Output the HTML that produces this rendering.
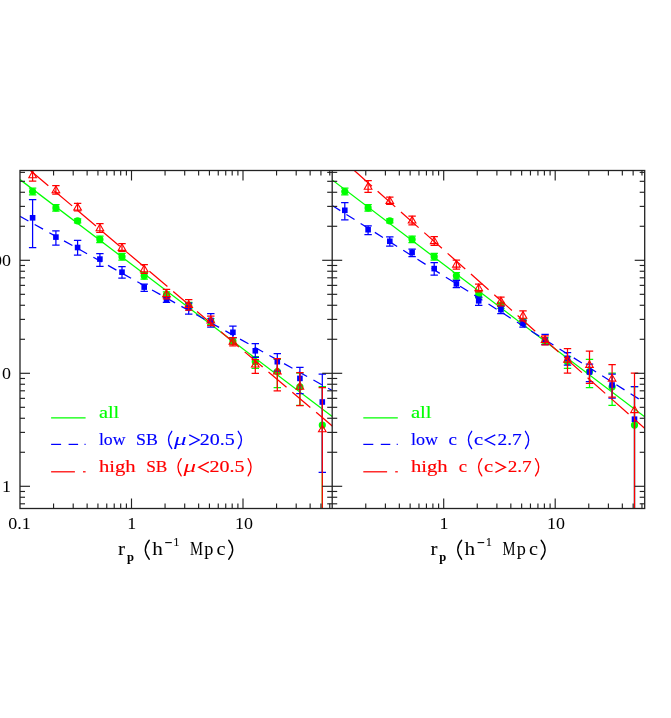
<!DOCTYPE html><html><head><meta charset="utf-8"><style>
html,body{margin:0;padding:0;background:#fff;}
body{width:671px;height:718px;overflow:hidden;position:relative;font-family:"Liberation Sans",sans-serif;}
svg{position:absolute;left:0;top:0;}
.t{font-family:"Liberation Serif",serif;font-size:17px;fill:#000;}
.s{font-family:"Liberation Serif",serif;font-size:17px;}
.d{font-family:"Liberation Serif",serif;font-size:17px;}
</style></head><body>
<svg width="671" height="718" viewBox="0 0 671 718" style="will-change:transform">
<rect x="0" y="0" width="671" height="718" fill="#fff"/>
<defs><clipPath id="cl"><rect x="20.0" y="170.5" width="312.2" height="338.0"/></clipPath>
<clipPath id="cr"><rect x="332.2" y="170.5" width="312.50000000000006" height="338.0"/></clipPath></defs>
<g clip-path="url(#cl)">
<line x1="20.00" y1="179.60" x2="332.20" y2="416.60" stroke="#00ff00" stroke-width="1.25" />
<line x1="32.60" y1="188.20" x2="32.60" y2="194.80" stroke="#00ff00" stroke-width="1.25" />
<line x1="28.90" y1="188.20" x2="36.30" y2="188.20" stroke="#00ff00" stroke-width="1.25" />
<line x1="28.90" y1="194.80" x2="36.30" y2="194.80" stroke="#00ff00" stroke-width="1.25" />
<circle cx="32.60" cy="191.50" r="3.6" fill="#00ff00"/>
<line x1="55.90" y1="204.60" x2="55.90" y2="211.20" stroke="#00ff00" stroke-width="1.25" />
<line x1="52.20" y1="204.60" x2="59.60" y2="204.60" stroke="#00ff00" stroke-width="1.25" />
<line x1="52.20" y1="211.20" x2="59.60" y2="211.20" stroke="#00ff00" stroke-width="1.25" />
<circle cx="55.90" cy="207.90" r="3.6" fill="#00ff00"/>
<line x1="77.60" y1="218.80" x2="77.60" y2="222.80" stroke="#00ff00" stroke-width="1.25" />
<line x1="73.90" y1="218.80" x2="81.30" y2="218.80" stroke="#00ff00" stroke-width="1.25" />
<line x1="73.90" y1="222.80" x2="81.30" y2="222.80" stroke="#00ff00" stroke-width="1.25" />
<circle cx="77.60" cy="220.80" r="3.6" fill="#00ff00"/>
<line x1="99.90" y1="236.10" x2="99.90" y2="242.70" stroke="#00ff00" stroke-width="1.25" />
<line x1="96.20" y1="236.10" x2="103.60" y2="236.10" stroke="#00ff00" stroke-width="1.25" />
<line x1="96.20" y1="242.70" x2="103.60" y2="242.70" stroke="#00ff00" stroke-width="1.25" />
<circle cx="99.90" cy="239.40" r="3.6" fill="#00ff00"/>
<line x1="122.00" y1="253.30" x2="122.00" y2="260.10" stroke="#00ff00" stroke-width="1.25" />
<line x1="118.30" y1="253.30" x2="125.70" y2="253.30" stroke="#00ff00" stroke-width="1.25" />
<line x1="118.30" y1="260.10" x2="125.70" y2="260.10" stroke="#00ff00" stroke-width="1.25" />
<circle cx="122.00" cy="256.70" r="3.6" fill="#00ff00"/>
<line x1="144.20" y1="272.60" x2="144.20" y2="279.20" stroke="#00ff00" stroke-width="1.25" />
<line x1="140.50" y1="272.60" x2="147.90" y2="272.60" stroke="#00ff00" stroke-width="1.25" />
<line x1="140.50" y1="279.20" x2="147.90" y2="279.20" stroke="#00ff00" stroke-width="1.25" />
<circle cx="144.20" cy="275.80" r="3.6" fill="#00ff00"/>
<line x1="166.50" y1="291.80" x2="166.50" y2="297.80" stroke="#00ff00" stroke-width="1.25" />
<line x1="162.80" y1="291.80" x2="170.20" y2="291.80" stroke="#00ff00" stroke-width="1.25" />
<line x1="162.80" y1="297.80" x2="170.20" y2="297.80" stroke="#00ff00" stroke-width="1.25" />
<circle cx="166.50" cy="294.80" r="3.6" fill="#00ff00"/>
<line x1="188.70" y1="302.30" x2="188.70" y2="308.30" stroke="#00ff00" stroke-width="1.25" />
<line x1="185.00" y1="302.30" x2="192.40" y2="302.30" stroke="#00ff00" stroke-width="1.25" />
<line x1="185.00" y1="308.30" x2="192.40" y2="308.30" stroke="#00ff00" stroke-width="1.25" />
<circle cx="188.70" cy="305.30" r="3.6" fill="#00ff00"/>
<line x1="210.80" y1="318.60" x2="210.80" y2="324.60" stroke="#00ff00" stroke-width="1.25" />
<line x1="207.10" y1="318.60" x2="214.50" y2="318.60" stroke="#00ff00" stroke-width="1.25" />
<line x1="207.10" y1="324.60" x2="214.50" y2="324.60" stroke="#00ff00" stroke-width="1.25" />
<circle cx="210.80" cy="321.60" r="3.6" fill="#00ff00"/>
<line x1="232.90" y1="337.80" x2="232.90" y2="344.20" stroke="#00ff00" stroke-width="1.25" />
<line x1="229.20" y1="337.80" x2="236.60" y2="337.80" stroke="#00ff00" stroke-width="1.25" />
<line x1="229.20" y1="344.20" x2="236.60" y2="344.20" stroke="#00ff00" stroke-width="1.25" />
<circle cx="232.90" cy="341.00" r="3.6" fill="#00ff00"/>
<line x1="255.30" y1="356.70" x2="255.30" y2="368.30" stroke="#00ff00" stroke-width="1.25" />
<line x1="251.60" y1="356.70" x2="259.00" y2="356.70" stroke="#00ff00" stroke-width="1.25" />
<line x1="251.60" y1="368.30" x2="259.00" y2="368.30" stroke="#00ff00" stroke-width="1.25" />
<circle cx="255.30" cy="361.80" r="3.6" fill="#00ff00"/>
<line x1="277.30" y1="359.40" x2="277.30" y2="387.50" stroke="#00ff00" stroke-width="1.25" />
<line x1="273.60" y1="359.40" x2="281.00" y2="359.40" stroke="#00ff00" stroke-width="1.25" />
<line x1="273.60" y1="387.50" x2="281.00" y2="387.50" stroke="#00ff00" stroke-width="1.25" />
<circle cx="277.30" cy="371.50" r="3.6" fill="#00ff00"/>
<line x1="299.90" y1="373.20" x2="299.90" y2="405.30" stroke="#00ff00" stroke-width="1.25" />
<line x1="296.20" y1="373.20" x2="303.60" y2="373.20" stroke="#00ff00" stroke-width="1.25" />
<line x1="296.20" y1="405.30" x2="303.60" y2="405.30" stroke="#00ff00" stroke-width="1.25" />
<circle cx="299.90" cy="386.80" r="3.6" fill="#00ff00"/>
<line x1="322.30" y1="386.70" x2="322.30" y2="1424.10" stroke="#00ff00" stroke-width="1.25" />
<line x1="318.60" y1="386.70" x2="326.00" y2="386.70" stroke="#00ff00" stroke-width="1.25" />
<line x1="318.60" y1="1424.10" x2="326.00" y2="1424.10" stroke="#00ff00" stroke-width="1.25" />
<circle cx="322.30" cy="425.10" r="3.6" fill="#00ff00"/>
<line x1="20.00" y1="216.30" x2="332.20" y2="390.50" stroke="#0000ff" stroke-width="1.25" stroke-dasharray="9.6 7.2" stroke-dashoffset="0"/>
<line x1="32.60" y1="199.60" x2="32.60" y2="247.60" stroke="#0000ff" stroke-width="1.25" />
<line x1="28.90" y1="199.60" x2="36.30" y2="199.60" stroke="#0000ff" stroke-width="1.25" />
<line x1="28.90" y1="247.60" x2="36.30" y2="247.60" stroke="#0000ff" stroke-width="1.25" />
<rect x="29.80" y="215.00" width="5.6" height="5.6" fill="#0000ff"/>
<line x1="55.90" y1="230.90" x2="55.90" y2="245.00" stroke="#0000ff" stroke-width="1.25" />
<line x1="52.20" y1="230.90" x2="59.60" y2="230.90" stroke="#0000ff" stroke-width="1.25" />
<line x1="52.20" y1="245.00" x2="59.60" y2="245.00" stroke="#0000ff" stroke-width="1.25" />
<rect x="53.10" y="234.30" width="5.6" height="5.6" fill="#0000ff"/>
<line x1="77.60" y1="240.30" x2="77.60" y2="255.10" stroke="#0000ff" stroke-width="1.25" />
<line x1="73.90" y1="240.30" x2="81.30" y2="240.30" stroke="#0000ff" stroke-width="1.25" />
<line x1="73.90" y1="255.10" x2="81.30" y2="255.10" stroke="#0000ff" stroke-width="1.25" />
<rect x="74.80" y="244.70" width="5.6" height="5.6" fill="#0000ff"/>
<line x1="99.90" y1="253.70" x2="99.90" y2="266.30" stroke="#0000ff" stroke-width="1.25" />
<line x1="96.20" y1="253.70" x2="103.60" y2="253.70" stroke="#0000ff" stroke-width="1.25" />
<line x1="96.20" y1="266.30" x2="103.60" y2="266.30" stroke="#0000ff" stroke-width="1.25" />
<rect x="97.10" y="256.30" width="5.6" height="5.6" fill="#0000ff"/>
<line x1="122.00" y1="266.50" x2="122.00" y2="278.20" stroke="#0000ff" stroke-width="1.25" />
<line x1="118.30" y1="266.50" x2="125.70" y2="266.50" stroke="#0000ff" stroke-width="1.25" />
<line x1="118.30" y1="278.20" x2="125.70" y2="278.20" stroke="#0000ff" stroke-width="1.25" />
<rect x="119.20" y="269.40" width="5.6" height="5.6" fill="#0000ff"/>
<line x1="144.20" y1="284.10" x2="144.20" y2="291.30" stroke="#0000ff" stroke-width="1.25" />
<line x1="140.50" y1="284.10" x2="147.90" y2="284.10" stroke="#0000ff" stroke-width="1.25" />
<line x1="140.50" y1="291.30" x2="147.90" y2="291.30" stroke="#0000ff" stroke-width="1.25" />
<rect x="141.40" y="284.30" width="5.6" height="5.6" fill="#0000ff"/>
<line x1="166.50" y1="297.00" x2="166.50" y2="302.30" stroke="#0000ff" stroke-width="1.25" />
<line x1="162.80" y1="297.00" x2="170.20" y2="297.00" stroke="#0000ff" stroke-width="1.25" />
<line x1="162.80" y1="302.30" x2="170.20" y2="302.30" stroke="#0000ff" stroke-width="1.25" />
<rect x="163.70" y="296.80" width="5.6" height="5.6" fill="#0000ff"/>
<line x1="188.70" y1="303.00" x2="188.70" y2="314.20" stroke="#0000ff" stroke-width="1.25" />
<line x1="185.00" y1="303.00" x2="192.40" y2="303.00" stroke="#0000ff" stroke-width="1.25" />
<line x1="185.00" y1="314.20" x2="192.40" y2="314.20" stroke="#0000ff" stroke-width="1.25" />
<rect x="185.90" y="305.10" width="5.6" height="5.6" fill="#0000ff"/>
<line x1="210.80" y1="313.60" x2="210.80" y2="327.00" stroke="#0000ff" stroke-width="1.25" />
<line x1="207.10" y1="313.60" x2="214.50" y2="313.60" stroke="#0000ff" stroke-width="1.25" />
<line x1="207.10" y1="327.00" x2="214.50" y2="327.00" stroke="#0000ff" stroke-width="1.25" />
<rect x="208.00" y="317.60" width="5.6" height="5.6" fill="#0000ff"/>
<line x1="232.90" y1="326.10" x2="232.90" y2="337.50" stroke="#0000ff" stroke-width="1.25" />
<line x1="229.20" y1="326.10" x2="236.60" y2="326.10" stroke="#0000ff" stroke-width="1.25" />
<line x1="229.20" y1="337.50" x2="236.60" y2="337.50" stroke="#0000ff" stroke-width="1.25" />
<rect x="230.10" y="329.50" width="5.6" height="5.6" fill="#0000ff"/>
<line x1="255.30" y1="343.60" x2="255.30" y2="357.30" stroke="#0000ff" stroke-width="1.25" />
<line x1="251.60" y1="343.60" x2="259.00" y2="343.60" stroke="#0000ff" stroke-width="1.25" />
<line x1="251.60" y1="357.30" x2="259.00" y2="357.30" stroke="#0000ff" stroke-width="1.25" />
<rect x="252.50" y="348.00" width="5.6" height="5.6" fill="#0000ff"/>
<line x1="277.30" y1="353.60" x2="277.30" y2="371.00" stroke="#0000ff" stroke-width="1.25" />
<line x1="273.60" y1="353.60" x2="281.00" y2="353.60" stroke="#0000ff" stroke-width="1.25" />
<line x1="273.60" y1="371.00" x2="281.00" y2="371.00" stroke="#0000ff" stroke-width="1.25" />
<rect x="274.50" y="358.90" width="5.6" height="5.6" fill="#0000ff"/>
<line x1="299.90" y1="367.30" x2="299.90" y2="393.60" stroke="#0000ff" stroke-width="1.25" />
<line x1="296.20" y1="367.30" x2="303.60" y2="367.30" stroke="#0000ff" stroke-width="1.25" />
<line x1="296.20" y1="393.60" x2="303.60" y2="393.60" stroke="#0000ff" stroke-width="1.25" />
<rect x="297.10" y="375.60" width="5.6" height="5.6" fill="#0000ff"/>
<line x1="322.30" y1="374.00" x2="322.30" y2="472.40" stroke="#0000ff" stroke-width="1.25" />
<line x1="318.60" y1="374.00" x2="326.00" y2="374.00" stroke="#0000ff" stroke-width="1.25" />
<line x1="318.60" y1="472.40" x2="326.00" y2="472.40" stroke="#0000ff" stroke-width="1.25" />
<rect x="319.50" y="399.20" width="5.6" height="5.6" fill="#0000ff"/>
<line x1="30.30" y1="170.50" x2="342.20" y2="434.36" stroke="#ff0000" stroke-width="1.25" stroke-dasharray="23.6 7.6" stroke-dashoffset="0"/>
<line x1="32.60" y1="169.00" x2="32.60" y2="181.10" stroke="#ff0000" stroke-width="1.25" />
<line x1="28.90" y1="169.00" x2="36.30" y2="169.00" stroke="#ff0000" stroke-width="1.25" />
<line x1="28.90" y1="181.10" x2="36.30" y2="181.10" stroke="#ff0000" stroke-width="1.25" />
<polygon points="32.60,171.10 28.79,177.70 36.41,177.70" fill="none" stroke="#ff0000" stroke-width="1.1"/>
<line x1="55.90" y1="185.50" x2="55.90" y2="194.00" stroke="#ff0000" stroke-width="1.25" />
<line x1="52.20" y1="185.50" x2="59.60" y2="185.50" stroke="#ff0000" stroke-width="1.25" />
<line x1="52.20" y1="194.00" x2="59.60" y2="194.00" stroke="#ff0000" stroke-width="1.25" />
<polygon points="55.90,186.10 52.09,192.70 59.71,192.70" fill="none" stroke="#ff0000" stroke-width="1.1"/>
<line x1="77.60" y1="203.40" x2="77.60" y2="210.90" stroke="#ff0000" stroke-width="1.25" />
<line x1="73.90" y1="203.40" x2="81.30" y2="203.40" stroke="#ff0000" stroke-width="1.25" />
<line x1="73.90" y1="210.90" x2="81.30" y2="210.90" stroke="#ff0000" stroke-width="1.25" />
<polygon points="77.60,203.40 73.79,210.00 81.41,210.00" fill="none" stroke="#ff0000" stroke-width="1.1"/>
<line x1="99.90" y1="223.60" x2="99.90" y2="232.30" stroke="#ff0000" stroke-width="1.25" />
<line x1="96.20" y1="223.60" x2="103.60" y2="223.60" stroke="#ff0000" stroke-width="1.25" />
<line x1="96.20" y1="232.30" x2="103.60" y2="232.30" stroke="#ff0000" stroke-width="1.25" />
<polygon points="99.90,224.10 96.09,230.70 103.71,230.70" fill="none" stroke="#ff0000" stroke-width="1.1"/>
<line x1="122.00" y1="243.60" x2="122.00" y2="251.40" stroke="#ff0000" stroke-width="1.25" />
<line x1="118.30" y1="243.60" x2="125.70" y2="243.60" stroke="#ff0000" stroke-width="1.25" />
<line x1="118.30" y1="251.40" x2="125.70" y2="251.40" stroke="#ff0000" stroke-width="1.25" />
<polygon points="122.00,243.80 118.19,250.40 125.81,250.40" fill="none" stroke="#ff0000" stroke-width="1.1"/>
<line x1="144.20" y1="264.50" x2="144.20" y2="273.40" stroke="#ff0000" stroke-width="1.25" />
<line x1="140.50" y1="264.50" x2="147.90" y2="264.50" stroke="#ff0000" stroke-width="1.25" />
<line x1="140.50" y1="273.40" x2="147.90" y2="273.40" stroke="#ff0000" stroke-width="1.25" />
<polygon points="144.20,265.20 140.39,271.80 148.01,271.80" fill="none" stroke="#ff0000" stroke-width="1.1"/>
<line x1="166.50" y1="289.40" x2="166.50" y2="298.80" stroke="#ff0000" stroke-width="1.25" />
<line x1="162.80" y1="289.40" x2="170.20" y2="289.40" stroke="#ff0000" stroke-width="1.25" />
<line x1="162.80" y1="298.80" x2="170.20" y2="298.80" stroke="#ff0000" stroke-width="1.25" />
<polygon points="166.50,290.00 162.69,296.60 170.31,296.60" fill="none" stroke="#ff0000" stroke-width="1.1"/>
<line x1="188.70" y1="299.60" x2="188.70" y2="310.00" stroke="#ff0000" stroke-width="1.25" />
<line x1="185.00" y1="299.60" x2="192.40" y2="299.60" stroke="#ff0000" stroke-width="1.25" />
<line x1="185.00" y1="310.00" x2="192.40" y2="310.00" stroke="#ff0000" stroke-width="1.25" />
<polygon points="188.70,300.80 184.89,307.40 192.51,307.40" fill="none" stroke="#ff0000" stroke-width="1.1"/>
<line x1="210.80" y1="316.00" x2="210.80" y2="325.50" stroke="#ff0000" stroke-width="1.25" />
<line x1="207.10" y1="316.00" x2="214.50" y2="316.00" stroke="#ff0000" stroke-width="1.25" />
<line x1="207.10" y1="325.50" x2="214.50" y2="325.50" stroke="#ff0000" stroke-width="1.25" />
<polygon points="210.80,316.40 206.99,323.00 214.61,323.00" fill="none" stroke="#ff0000" stroke-width="1.1"/>
<line x1="232.90" y1="337.60" x2="232.90" y2="345.80" stroke="#ff0000" stroke-width="1.25" />
<line x1="229.20" y1="337.60" x2="236.60" y2="337.60" stroke="#ff0000" stroke-width="1.25" />
<line x1="229.20" y1="345.80" x2="236.60" y2="345.80" stroke="#ff0000" stroke-width="1.25" />
<polygon points="232.90,337.60 229.09,344.20 236.71,344.20" fill="none" stroke="#ff0000" stroke-width="1.1"/>
<line x1="255.30" y1="359.70" x2="255.30" y2="373.40" stroke="#ff0000" stroke-width="1.25" />
<line x1="251.60" y1="359.70" x2="259.00" y2="359.70" stroke="#ff0000" stroke-width="1.25" />
<line x1="251.60" y1="373.40" x2="259.00" y2="373.40" stroke="#ff0000" stroke-width="1.25" />
<polygon points="255.30,360.40 251.49,367.00 259.11,367.00" fill="none" stroke="#ff0000" stroke-width="1.1"/>
<line x1="277.30" y1="358.70" x2="277.30" y2="390.90" stroke="#ff0000" stroke-width="1.25" />
<line x1="273.60" y1="358.70" x2="281.00" y2="358.70" stroke="#ff0000" stroke-width="1.25" />
<line x1="273.60" y1="390.90" x2="281.00" y2="390.90" stroke="#ff0000" stroke-width="1.25" />
<polygon points="277.30,367.40 273.49,374.00 281.11,374.00" fill="none" stroke="#ff0000" stroke-width="1.1"/>
<line x1="299.90" y1="372.70" x2="299.90" y2="405.60" stroke="#ff0000" stroke-width="1.25" />
<line x1="296.20" y1="372.70" x2="303.60" y2="372.70" stroke="#ff0000" stroke-width="1.25" />
<line x1="296.20" y1="405.60" x2="303.60" y2="405.60" stroke="#ff0000" stroke-width="1.25" />
<polygon points="299.90,382.60 296.09,389.20 303.71,389.20" fill="none" stroke="#ff0000" stroke-width="1.1"/>
<line x1="322.30" y1="387.70" x2="322.30" y2="999.00" stroke="#ff0000" stroke-width="1.25" />
<line x1="318.60" y1="387.70" x2="326.00" y2="387.70" stroke="#ff0000" stroke-width="1.25" />
<line x1="318.60" y1="999.00" x2="326.00" y2="999.00" stroke="#ff0000" stroke-width="1.25" />
<polygon points="322.30,425.20 318.49,431.80 326.11,431.80" fill="none" stroke="#ff0000" stroke-width="1.1"/>
</g>
<g clip-path="url(#cr)">
<line x1="332.20" y1="179.90" x2="644.70" y2="416.80" stroke="#00ff00" stroke-width="1.25" />
<line x1="344.80" y1="188.20" x2="344.80" y2="194.80" stroke="#00ff00" stroke-width="1.25" />
<line x1="341.10" y1="188.20" x2="348.50" y2="188.20" stroke="#00ff00" stroke-width="1.25" />
<line x1="341.10" y1="194.80" x2="348.50" y2="194.80" stroke="#00ff00" stroke-width="1.25" />
<circle cx="344.80" cy="191.50" r="3.6" fill="#00ff00"/>
<line x1="368.10" y1="204.60" x2="368.10" y2="211.20" stroke="#00ff00" stroke-width="1.25" />
<line x1="364.40" y1="204.60" x2="371.80" y2="204.60" stroke="#00ff00" stroke-width="1.25" />
<line x1="364.40" y1="211.20" x2="371.80" y2="211.20" stroke="#00ff00" stroke-width="1.25" />
<circle cx="368.10" cy="207.90" r="3.6" fill="#00ff00"/>
<line x1="389.80" y1="218.80" x2="389.80" y2="222.80" stroke="#00ff00" stroke-width="1.25" />
<line x1="386.10" y1="218.80" x2="393.50" y2="218.80" stroke="#00ff00" stroke-width="1.25" />
<line x1="386.10" y1="222.80" x2="393.50" y2="222.80" stroke="#00ff00" stroke-width="1.25" />
<circle cx="389.80" cy="220.80" r="3.6" fill="#00ff00"/>
<line x1="412.10" y1="236.10" x2="412.10" y2="242.70" stroke="#00ff00" stroke-width="1.25" />
<line x1="408.40" y1="236.10" x2="415.80" y2="236.10" stroke="#00ff00" stroke-width="1.25" />
<line x1="408.40" y1="242.70" x2="415.80" y2="242.70" stroke="#00ff00" stroke-width="1.25" />
<circle cx="412.10" cy="239.40" r="3.6" fill="#00ff00"/>
<line x1="434.20" y1="253.30" x2="434.20" y2="260.10" stroke="#00ff00" stroke-width="1.25" />
<line x1="430.50" y1="253.30" x2="437.90" y2="253.30" stroke="#00ff00" stroke-width="1.25" />
<line x1="430.50" y1="260.10" x2="437.90" y2="260.10" stroke="#00ff00" stroke-width="1.25" />
<circle cx="434.20" cy="256.70" r="3.6" fill="#00ff00"/>
<line x1="456.40" y1="272.60" x2="456.40" y2="279.20" stroke="#00ff00" stroke-width="1.25" />
<line x1="452.70" y1="272.60" x2="460.10" y2="272.60" stroke="#00ff00" stroke-width="1.25" />
<line x1="452.70" y1="279.20" x2="460.10" y2="279.20" stroke="#00ff00" stroke-width="1.25" />
<circle cx="456.40" cy="275.80" r="3.6" fill="#00ff00"/>
<line x1="478.70" y1="291.80" x2="478.70" y2="297.80" stroke="#00ff00" stroke-width="1.25" />
<line x1="475.00" y1="291.80" x2="482.40" y2="291.80" stroke="#00ff00" stroke-width="1.25" />
<line x1="475.00" y1="297.80" x2="482.40" y2="297.80" stroke="#00ff00" stroke-width="1.25" />
<circle cx="478.70" cy="294.80" r="3.6" fill="#00ff00"/>
<line x1="500.90" y1="302.30" x2="500.90" y2="308.30" stroke="#00ff00" stroke-width="1.25" />
<line x1="497.20" y1="302.30" x2="504.60" y2="302.30" stroke="#00ff00" stroke-width="1.25" />
<line x1="497.20" y1="308.30" x2="504.60" y2="308.30" stroke="#00ff00" stroke-width="1.25" />
<circle cx="500.90" cy="305.30" r="3.6" fill="#00ff00"/>
<line x1="523.00" y1="318.60" x2="523.00" y2="324.60" stroke="#00ff00" stroke-width="1.25" />
<line x1="519.30" y1="318.60" x2="526.70" y2="318.60" stroke="#00ff00" stroke-width="1.25" />
<line x1="519.30" y1="324.60" x2="526.70" y2="324.60" stroke="#00ff00" stroke-width="1.25" />
<circle cx="523.00" cy="321.60" r="3.6" fill="#00ff00"/>
<line x1="545.10" y1="337.80" x2="545.10" y2="344.20" stroke="#00ff00" stroke-width="1.25" />
<line x1="541.40" y1="337.80" x2="548.80" y2="337.80" stroke="#00ff00" stroke-width="1.25" />
<line x1="541.40" y1="344.20" x2="548.80" y2="344.20" stroke="#00ff00" stroke-width="1.25" />
<circle cx="545.10" cy="341.00" r="3.6" fill="#00ff00"/>
<line x1="567.50" y1="356.70" x2="567.50" y2="368.30" stroke="#00ff00" stroke-width="1.25" />
<line x1="563.80" y1="356.70" x2="571.20" y2="356.70" stroke="#00ff00" stroke-width="1.25" />
<line x1="563.80" y1="368.30" x2="571.20" y2="368.30" stroke="#00ff00" stroke-width="1.25" />
<circle cx="567.50" cy="361.80" r="3.6" fill="#00ff00"/>
<line x1="589.50" y1="359.40" x2="589.50" y2="387.50" stroke="#00ff00" stroke-width="1.25" />
<line x1="585.80" y1="359.40" x2="593.20" y2="359.40" stroke="#00ff00" stroke-width="1.25" />
<line x1="585.80" y1="387.50" x2="593.20" y2="387.50" stroke="#00ff00" stroke-width="1.25" />
<circle cx="589.50" cy="371.50" r="3.6" fill="#00ff00"/>
<line x1="612.10" y1="373.20" x2="612.10" y2="405.30" stroke="#00ff00" stroke-width="1.25" />
<line x1="608.40" y1="373.20" x2="615.80" y2="373.20" stroke="#00ff00" stroke-width="1.25" />
<line x1="608.40" y1="405.30" x2="615.80" y2="405.30" stroke="#00ff00" stroke-width="1.25" />
<circle cx="612.10" cy="386.80" r="3.6" fill="#00ff00"/>
<line x1="634.50" y1="386.70" x2="634.50" y2="1424.10" stroke="#00ff00" stroke-width="1.25" />
<line x1="630.80" y1="386.70" x2="638.20" y2="386.70" stroke="#00ff00" stroke-width="1.25" />
<line x1="630.80" y1="1424.10" x2="638.20" y2="1424.10" stroke="#00ff00" stroke-width="1.25" />
<circle cx="634.50" cy="425.10" r="3.6" fill="#00ff00"/>
<line x1="332.20" y1="205.50" x2="644.50" y2="402.50" stroke="#0000ff" stroke-width="1.25" stroke-dasharray="9.6 7.2" stroke-dashoffset="0"/>
<line x1="344.80" y1="202.50" x2="344.80" y2="219.80" stroke="#0000ff" stroke-width="1.25" />
<line x1="341.10" y1="202.50" x2="348.50" y2="202.50" stroke="#0000ff" stroke-width="1.25" />
<line x1="341.10" y1="219.80" x2="348.50" y2="219.80" stroke="#0000ff" stroke-width="1.25" />
<rect x="342.00" y="207.50" width="5.6" height="5.6" fill="#0000ff"/>
<line x1="368.10" y1="225.80" x2="368.10" y2="234.50" stroke="#0000ff" stroke-width="1.25" />
<line x1="364.40" y1="225.80" x2="371.80" y2="225.80" stroke="#0000ff" stroke-width="1.25" />
<line x1="364.40" y1="234.50" x2="371.80" y2="234.50" stroke="#0000ff" stroke-width="1.25" />
<rect x="365.30" y="226.90" width="5.6" height="5.6" fill="#0000ff"/>
<line x1="389.80" y1="236.90" x2="389.80" y2="246.00" stroke="#0000ff" stroke-width="1.25" />
<line x1="386.10" y1="236.90" x2="393.50" y2="236.90" stroke="#0000ff" stroke-width="1.25" />
<line x1="386.10" y1="246.00" x2="393.50" y2="246.00" stroke="#0000ff" stroke-width="1.25" />
<rect x="387.00" y="238.50" width="5.6" height="5.6" fill="#0000ff"/>
<line x1="412.10" y1="249.00" x2="412.10" y2="256.70" stroke="#0000ff" stroke-width="1.25" />
<line x1="408.40" y1="249.00" x2="415.80" y2="249.00" stroke="#0000ff" stroke-width="1.25" />
<line x1="408.40" y1="256.70" x2="415.80" y2="256.70" stroke="#0000ff" stroke-width="1.25" />
<rect x="409.30" y="249.70" width="5.6" height="5.6" fill="#0000ff"/>
<line x1="434.20" y1="262.70" x2="434.20" y2="275.20" stroke="#0000ff" stroke-width="1.25" />
<line x1="430.50" y1="262.70" x2="437.90" y2="262.70" stroke="#0000ff" stroke-width="1.25" />
<line x1="430.50" y1="275.20" x2="437.90" y2="275.20" stroke="#0000ff" stroke-width="1.25" />
<rect x="431.40" y="265.80" width="5.6" height="5.6" fill="#0000ff"/>
<line x1="456.40" y1="280.30" x2="456.40" y2="287.70" stroke="#0000ff" stroke-width="1.25" />
<line x1="452.70" y1="280.30" x2="460.10" y2="280.30" stroke="#0000ff" stroke-width="1.25" />
<line x1="452.70" y1="287.70" x2="460.10" y2="287.70" stroke="#0000ff" stroke-width="1.25" />
<rect x="453.60" y="281.10" width="5.6" height="5.6" fill="#0000ff"/>
<line x1="478.70" y1="297.00" x2="478.70" y2="305.30" stroke="#0000ff" stroke-width="1.25" />
<line x1="475.00" y1="297.00" x2="482.40" y2="297.00" stroke="#0000ff" stroke-width="1.25" />
<line x1="475.00" y1="305.30" x2="482.40" y2="305.30" stroke="#0000ff" stroke-width="1.25" />
<rect x="475.90" y="298.00" width="5.6" height="5.6" fill="#0000ff"/>
<line x1="500.90" y1="306.00" x2="500.90" y2="313.60" stroke="#0000ff" stroke-width="1.25" />
<line x1="497.20" y1="306.00" x2="504.60" y2="306.00" stroke="#0000ff" stroke-width="1.25" />
<line x1="497.20" y1="313.60" x2="504.60" y2="313.60" stroke="#0000ff" stroke-width="1.25" />
<rect x="498.10" y="306.90" width="5.6" height="5.6" fill="#0000ff"/>
<line x1="523.00" y1="320.00" x2="523.00" y2="327.00" stroke="#0000ff" stroke-width="1.25" />
<line x1="519.30" y1="320.00" x2="526.70" y2="320.00" stroke="#0000ff" stroke-width="1.25" />
<line x1="519.30" y1="327.00" x2="526.70" y2="327.00" stroke="#0000ff" stroke-width="1.25" />
<rect x="520.20" y="320.60" width="5.6" height="5.6" fill="#0000ff"/>
<line x1="545.10" y1="334.30" x2="545.10" y2="344.50" stroke="#0000ff" stroke-width="1.25" />
<line x1="541.40" y1="334.30" x2="548.80" y2="334.30" stroke="#0000ff" stroke-width="1.25" />
<line x1="541.40" y1="344.50" x2="548.80" y2="344.50" stroke="#0000ff" stroke-width="1.25" />
<rect x="542.30" y="337.20" width="5.6" height="5.6" fill="#0000ff"/>
<line x1="567.50" y1="352.50" x2="567.50" y2="365.00" stroke="#0000ff" stroke-width="1.25" />
<line x1="563.80" y1="352.50" x2="571.20" y2="352.50" stroke="#0000ff" stroke-width="1.25" />
<line x1="563.80" y1="365.00" x2="571.20" y2="365.00" stroke="#0000ff" stroke-width="1.25" />
<rect x="564.70" y="355.50" width="5.6" height="5.6" fill="#0000ff"/>
<line x1="589.50" y1="364.20" x2="589.50" y2="381.50" stroke="#0000ff" stroke-width="1.25" />
<line x1="585.80" y1="364.20" x2="593.20" y2="364.20" stroke="#0000ff" stroke-width="1.25" />
<line x1="585.80" y1="381.50" x2="593.20" y2="381.50" stroke="#0000ff" stroke-width="1.25" />
<rect x="586.70" y="369.20" width="5.6" height="5.6" fill="#0000ff"/>
<line x1="612.10" y1="374.10" x2="612.10" y2="398.20" stroke="#0000ff" stroke-width="1.25" />
<line x1="608.40" y1="374.10" x2="615.80" y2="374.10" stroke="#0000ff" stroke-width="1.25" />
<line x1="608.40" y1="398.20" x2="615.80" y2="398.20" stroke="#0000ff" stroke-width="1.25" />
<rect x="609.30" y="382.20" width="5.6" height="5.6" fill="#0000ff"/>
<line x1="634.50" y1="386.60" x2="634.50" y2="999.00" stroke="#0000ff" stroke-width="1.25" />
<line x1="630.80" y1="386.60" x2="638.20" y2="386.60" stroke="#0000ff" stroke-width="1.25" />
<line x1="630.80" y1="999.00" x2="638.20" y2="999.00" stroke="#0000ff" stroke-width="1.25" />
<rect x="631.70" y="416.40" width="5.6" height="5.6" fill="#0000ff"/>
<line x1="354.30" y1="170.50" x2="654.70" y2="437.28" stroke="#ff0000" stroke-width="1.25" stroke-dasharray="23.6 7.6" stroke-dashoffset="0"/>
<line x1="368.10" y1="180.50" x2="368.10" y2="192.40" stroke="#ff0000" stroke-width="1.25" />
<line x1="364.40" y1="180.50" x2="371.80" y2="180.50" stroke="#ff0000" stroke-width="1.25" />
<line x1="364.40" y1="192.40" x2="371.80" y2="192.40" stroke="#ff0000" stroke-width="1.25" />
<polygon points="368.10,182.60 364.29,189.20 371.91,189.20" fill="none" stroke="#ff0000" stroke-width="1.1"/>
<line x1="389.80" y1="197.20" x2="389.80" y2="204.30" stroke="#ff0000" stroke-width="1.25" />
<line x1="386.10" y1="197.20" x2="393.50" y2="197.20" stroke="#ff0000" stroke-width="1.25" />
<line x1="386.10" y1="204.30" x2="393.50" y2="204.30" stroke="#ff0000" stroke-width="1.25" />
<polygon points="389.80,196.80 385.99,203.40 393.61,203.40" fill="none" stroke="#ff0000" stroke-width="1.1"/>
<line x1="412.10" y1="216.20" x2="412.10" y2="224.90" stroke="#ff0000" stroke-width="1.25" />
<line x1="408.40" y1="216.20" x2="415.80" y2="216.20" stroke="#ff0000" stroke-width="1.25" />
<line x1="408.40" y1="224.90" x2="415.80" y2="224.90" stroke="#ff0000" stroke-width="1.25" />
<polygon points="412.10,216.40 408.29,223.00 415.91,223.00" fill="none" stroke="#ff0000" stroke-width="1.1"/>
<line x1="434.20" y1="236.50" x2="434.20" y2="245.40" stroke="#ff0000" stroke-width="1.25" />
<line x1="430.50" y1="236.50" x2="437.90" y2="236.50" stroke="#ff0000" stroke-width="1.25" />
<line x1="430.50" y1="245.40" x2="437.90" y2="245.40" stroke="#ff0000" stroke-width="1.25" />
<polygon points="434.20,237.00 430.39,243.60 438.01,243.60" fill="none" stroke="#ff0000" stroke-width="1.1"/>
<line x1="456.40" y1="260.00" x2="456.40" y2="269.20" stroke="#ff0000" stroke-width="1.25" />
<line x1="452.70" y1="260.00" x2="460.10" y2="260.00" stroke="#ff0000" stroke-width="1.25" />
<line x1="452.70" y1="269.20" x2="460.10" y2="269.20" stroke="#ff0000" stroke-width="1.25" />
<polygon points="456.40,260.50 452.59,267.10 460.21,267.10" fill="none" stroke="#ff0000" stroke-width="1.1"/>
<line x1="478.70" y1="284.10" x2="478.70" y2="291.80" stroke="#ff0000" stroke-width="1.25" />
<line x1="475.00" y1="284.10" x2="482.40" y2="284.10" stroke="#ff0000" stroke-width="1.25" />
<line x1="475.00" y1="291.80" x2="482.40" y2="291.80" stroke="#ff0000" stroke-width="1.25" />
<polygon points="478.70,284.00 474.89,290.60 482.51,290.60" fill="none" stroke="#ff0000" stroke-width="1.1"/>
<line x1="500.90" y1="297.20" x2="500.90" y2="305.80" stroke="#ff0000" stroke-width="1.25" />
<line x1="497.20" y1="297.20" x2="504.60" y2="297.20" stroke="#ff0000" stroke-width="1.25" />
<line x1="497.20" y1="305.80" x2="504.60" y2="305.80" stroke="#ff0000" stroke-width="1.25" />
<polygon points="500.90,297.20 497.09,303.80 504.71,303.80" fill="none" stroke="#ff0000" stroke-width="1.1"/>
<line x1="523.00" y1="310.90" x2="523.00" y2="320.80" stroke="#ff0000" stroke-width="1.25" />
<line x1="519.30" y1="310.90" x2="526.70" y2="310.90" stroke="#ff0000" stroke-width="1.25" />
<line x1="519.30" y1="320.80" x2="526.70" y2="320.80" stroke="#ff0000" stroke-width="1.25" />
<polygon points="523.00,311.60 519.19,318.20 526.81,318.20" fill="none" stroke="#ff0000" stroke-width="1.1"/>
<line x1="545.10" y1="335.90" x2="545.10" y2="344.80" stroke="#ff0000" stroke-width="1.25" />
<line x1="541.40" y1="335.90" x2="548.80" y2="335.90" stroke="#ff0000" stroke-width="1.25" />
<line x1="541.40" y1="344.80" x2="548.80" y2="344.80" stroke="#ff0000" stroke-width="1.25" />
<polygon points="545.10,335.90 541.29,342.50 548.91,342.50" fill="none" stroke="#ff0000" stroke-width="1.1"/>
<line x1="567.50" y1="348.70" x2="567.50" y2="373.00" stroke="#ff0000" stroke-width="1.25" />
<line x1="563.80" y1="348.70" x2="571.20" y2="348.70" stroke="#ff0000" stroke-width="1.25" />
<line x1="563.80" y1="373.00" x2="571.20" y2="373.00" stroke="#ff0000" stroke-width="1.25" />
<polygon points="567.50,355.60 563.69,362.20 571.31,362.20" fill="none" stroke="#ff0000" stroke-width="1.1"/>
<line x1="589.50" y1="351.10" x2="589.50" y2="383.30" stroke="#ff0000" stroke-width="1.25" />
<line x1="585.80" y1="351.10" x2="593.20" y2="351.10" stroke="#ff0000" stroke-width="1.25" />
<line x1="585.80" y1="383.30" x2="593.20" y2="383.30" stroke="#ff0000" stroke-width="1.25" />
<polygon points="589.50,360.80 585.69,367.40 593.31,367.40" fill="none" stroke="#ff0000" stroke-width="1.1"/>
<line x1="612.10" y1="364.60" x2="612.10" y2="397.00" stroke="#ff0000" stroke-width="1.25" />
<line x1="608.40" y1="364.60" x2="615.80" y2="364.60" stroke="#ff0000" stroke-width="1.25" />
<line x1="608.40" y1="397.00" x2="615.80" y2="397.00" stroke="#ff0000" stroke-width="1.25" />
<polygon points="612.10,374.50 608.29,381.10 615.91,381.10" fill="none" stroke="#ff0000" stroke-width="1.1"/>
<line x1="634.50" y1="373.10" x2="634.50" y2="999.00" stroke="#ff0000" stroke-width="1.25" />
<line x1="630.80" y1="373.10" x2="638.20" y2="373.10" stroke="#ff0000" stroke-width="1.25" />
<line x1="630.80" y1="999.00" x2="638.20" y2="999.00" stroke="#ff0000" stroke-width="1.25" />
<polygon points="634.50,406.00 630.69,412.60 638.31,412.60" fill="none" stroke="#ff0000" stroke-width="1.1"/>
</g>
<rect x="20.0" y="170.5" width="624.7" height="338.0" fill="none" stroke="#222" stroke-width="1.3"/>
<line x1="332.20" y1="170.50" x2="332.20" y2="508.50" stroke="#222" stroke-width="1.3" />
<line x1="53.56" y1="508.50" x2="53.56" y2="503.50" stroke="#222" stroke-width="1.15" />
<line x1="53.56" y1="170.50" x2="53.56" y2="175.50" stroke="#222" stroke-width="1.15" />
<line x1="73.20" y1="508.50" x2="73.20" y2="503.50" stroke="#222" stroke-width="1.15" />
<line x1="73.20" y1="170.50" x2="73.20" y2="175.50" stroke="#222" stroke-width="1.15" />
<line x1="87.13" y1="508.50" x2="87.13" y2="503.50" stroke="#222" stroke-width="1.15" />
<line x1="87.13" y1="170.50" x2="87.13" y2="175.50" stroke="#222" stroke-width="1.15" />
<line x1="97.94" y1="508.50" x2="97.94" y2="503.50" stroke="#222" stroke-width="1.15" />
<line x1="97.94" y1="170.50" x2="97.94" y2="175.50" stroke="#222" stroke-width="1.15" />
<line x1="106.76" y1="508.50" x2="106.76" y2="503.50" stroke="#222" stroke-width="1.15" />
<line x1="106.76" y1="170.50" x2="106.76" y2="175.50" stroke="#222" stroke-width="1.15" />
<line x1="114.23" y1="508.50" x2="114.23" y2="503.50" stroke="#222" stroke-width="1.15" />
<line x1="114.23" y1="170.50" x2="114.23" y2="175.50" stroke="#222" stroke-width="1.15" />
<line x1="120.69" y1="508.50" x2="120.69" y2="503.50" stroke="#222" stroke-width="1.15" />
<line x1="120.69" y1="170.50" x2="120.69" y2="175.50" stroke="#222" stroke-width="1.15" />
<line x1="126.40" y1="508.50" x2="126.40" y2="503.50" stroke="#222" stroke-width="1.15" />
<line x1="126.40" y1="170.50" x2="126.40" y2="175.50" stroke="#222" stroke-width="1.15" />
<line x1="131.50" y1="508.50" x2="131.50" y2="498.50" stroke="#222" stroke-width="1.15" />
<line x1="131.50" y1="170.50" x2="131.50" y2="180.50" stroke="#222" stroke-width="1.15" />
<line x1="165.06" y1="508.50" x2="165.06" y2="503.50" stroke="#222" stroke-width="1.15" />
<line x1="165.06" y1="170.50" x2="165.06" y2="175.50" stroke="#222" stroke-width="1.15" />
<line x1="184.70" y1="508.50" x2="184.70" y2="503.50" stroke="#222" stroke-width="1.15" />
<line x1="184.70" y1="170.50" x2="184.70" y2="175.50" stroke="#222" stroke-width="1.15" />
<line x1="198.63" y1="508.50" x2="198.63" y2="503.50" stroke="#222" stroke-width="1.15" />
<line x1="198.63" y1="170.50" x2="198.63" y2="175.50" stroke="#222" stroke-width="1.15" />
<line x1="209.44" y1="508.50" x2="209.44" y2="503.50" stroke="#222" stroke-width="1.15" />
<line x1="209.44" y1="170.50" x2="209.44" y2="175.50" stroke="#222" stroke-width="1.15" />
<line x1="218.26" y1="508.50" x2="218.26" y2="503.50" stroke="#222" stroke-width="1.15" />
<line x1="218.26" y1="170.50" x2="218.26" y2="175.50" stroke="#222" stroke-width="1.15" />
<line x1="225.73" y1="508.50" x2="225.73" y2="503.50" stroke="#222" stroke-width="1.15" />
<line x1="225.73" y1="170.50" x2="225.73" y2="175.50" stroke="#222" stroke-width="1.15" />
<line x1="232.19" y1="508.50" x2="232.19" y2="503.50" stroke="#222" stroke-width="1.15" />
<line x1="232.19" y1="170.50" x2="232.19" y2="175.50" stroke="#222" stroke-width="1.15" />
<line x1="237.90" y1="508.50" x2="237.90" y2="503.50" stroke="#222" stroke-width="1.15" />
<line x1="237.90" y1="170.50" x2="237.90" y2="175.50" stroke="#222" stroke-width="1.15" />
<line x1="243.00" y1="508.50" x2="243.00" y2="498.50" stroke="#222" stroke-width="1.15" />
<line x1="243.00" y1="170.50" x2="243.00" y2="180.50" stroke="#222" stroke-width="1.15" />
<line x1="276.56" y1="508.50" x2="276.56" y2="503.50" stroke="#222" stroke-width="1.15" />
<line x1="276.56" y1="170.50" x2="276.56" y2="175.50" stroke="#222" stroke-width="1.15" />
<line x1="296.20" y1="508.50" x2="296.20" y2="503.50" stroke="#222" stroke-width="1.15" />
<line x1="296.20" y1="170.50" x2="296.20" y2="175.50" stroke="#222" stroke-width="1.15" />
<line x1="310.13" y1="508.50" x2="310.13" y2="503.50" stroke="#222" stroke-width="1.15" />
<line x1="310.13" y1="170.50" x2="310.13" y2="175.50" stroke="#222" stroke-width="1.15" />
<line x1="320.94" y1="508.50" x2="320.94" y2="503.50" stroke="#222" stroke-width="1.15" />
<line x1="320.94" y1="170.50" x2="320.94" y2="175.50" stroke="#222" stroke-width="1.15" />
<line x1="329.76" y1="508.50" x2="329.76" y2="503.50" stroke="#222" stroke-width="1.15" />
<line x1="329.76" y1="170.50" x2="329.76" y2="175.50" stroke="#222" stroke-width="1.15" />
<line x1="365.76" y1="508.50" x2="365.76" y2="503.50" stroke="#222" stroke-width="1.15" />
<line x1="365.76" y1="170.50" x2="365.76" y2="175.50" stroke="#222" stroke-width="1.15" />
<line x1="385.40" y1="508.50" x2="385.40" y2="503.50" stroke="#222" stroke-width="1.15" />
<line x1="385.40" y1="170.50" x2="385.40" y2="175.50" stroke="#222" stroke-width="1.15" />
<line x1="399.33" y1="508.50" x2="399.33" y2="503.50" stroke="#222" stroke-width="1.15" />
<line x1="399.33" y1="170.50" x2="399.33" y2="175.50" stroke="#222" stroke-width="1.15" />
<line x1="410.14" y1="508.50" x2="410.14" y2="503.50" stroke="#222" stroke-width="1.15" />
<line x1="410.14" y1="170.50" x2="410.14" y2="175.50" stroke="#222" stroke-width="1.15" />
<line x1="418.96" y1="508.50" x2="418.96" y2="503.50" stroke="#222" stroke-width="1.15" />
<line x1="418.96" y1="170.50" x2="418.96" y2="175.50" stroke="#222" stroke-width="1.15" />
<line x1="426.43" y1="508.50" x2="426.43" y2="503.50" stroke="#222" stroke-width="1.15" />
<line x1="426.43" y1="170.50" x2="426.43" y2="175.50" stroke="#222" stroke-width="1.15" />
<line x1="432.89" y1="508.50" x2="432.89" y2="503.50" stroke="#222" stroke-width="1.15" />
<line x1="432.89" y1="170.50" x2="432.89" y2="175.50" stroke="#222" stroke-width="1.15" />
<line x1="438.60" y1="508.50" x2="438.60" y2="503.50" stroke="#222" stroke-width="1.15" />
<line x1="438.60" y1="170.50" x2="438.60" y2="175.50" stroke="#222" stroke-width="1.15" />
<line x1="443.70" y1="508.50" x2="443.70" y2="498.50" stroke="#222" stroke-width="1.15" />
<line x1="443.70" y1="170.50" x2="443.70" y2="180.50" stroke="#222" stroke-width="1.15" />
<line x1="477.26" y1="508.50" x2="477.26" y2="503.50" stroke="#222" stroke-width="1.15" />
<line x1="477.26" y1="170.50" x2="477.26" y2="175.50" stroke="#222" stroke-width="1.15" />
<line x1="496.90" y1="508.50" x2="496.90" y2="503.50" stroke="#222" stroke-width="1.15" />
<line x1="496.90" y1="170.50" x2="496.90" y2="175.50" stroke="#222" stroke-width="1.15" />
<line x1="510.83" y1="508.50" x2="510.83" y2="503.50" stroke="#222" stroke-width="1.15" />
<line x1="510.83" y1="170.50" x2="510.83" y2="175.50" stroke="#222" stroke-width="1.15" />
<line x1="521.64" y1="508.50" x2="521.64" y2="503.50" stroke="#222" stroke-width="1.15" />
<line x1="521.64" y1="170.50" x2="521.64" y2="175.50" stroke="#222" stroke-width="1.15" />
<line x1="530.46" y1="508.50" x2="530.46" y2="503.50" stroke="#222" stroke-width="1.15" />
<line x1="530.46" y1="170.50" x2="530.46" y2="175.50" stroke="#222" stroke-width="1.15" />
<line x1="537.93" y1="508.50" x2="537.93" y2="503.50" stroke="#222" stroke-width="1.15" />
<line x1="537.93" y1="170.50" x2="537.93" y2="175.50" stroke="#222" stroke-width="1.15" />
<line x1="544.39" y1="508.50" x2="544.39" y2="503.50" stroke="#222" stroke-width="1.15" />
<line x1="544.39" y1="170.50" x2="544.39" y2="175.50" stroke="#222" stroke-width="1.15" />
<line x1="550.10" y1="508.50" x2="550.10" y2="503.50" stroke="#222" stroke-width="1.15" />
<line x1="550.10" y1="170.50" x2="550.10" y2="175.50" stroke="#222" stroke-width="1.15" />
<line x1="555.20" y1="508.50" x2="555.20" y2="498.50" stroke="#222" stroke-width="1.15" />
<line x1="555.20" y1="170.50" x2="555.20" y2="180.50" stroke="#222" stroke-width="1.15" />
<line x1="588.76" y1="508.50" x2="588.76" y2="503.50" stroke="#222" stroke-width="1.15" />
<line x1="588.76" y1="170.50" x2="588.76" y2="175.50" stroke="#222" stroke-width="1.15" />
<line x1="608.40" y1="508.50" x2="608.40" y2="503.50" stroke="#222" stroke-width="1.15" />
<line x1="608.40" y1="170.50" x2="608.40" y2="175.50" stroke="#222" stroke-width="1.15" />
<line x1="622.33" y1="508.50" x2="622.33" y2="503.50" stroke="#222" stroke-width="1.15" />
<line x1="622.33" y1="170.50" x2="622.33" y2="175.50" stroke="#222" stroke-width="1.15" />
<line x1="633.14" y1="508.50" x2="633.14" y2="503.50" stroke="#222" stroke-width="1.15" />
<line x1="633.14" y1="170.50" x2="633.14" y2="175.50" stroke="#222" stroke-width="1.15" />
<line x1="641.96" y1="508.50" x2="641.96" y2="503.50" stroke="#222" stroke-width="1.15" />
<line x1="641.96" y1="170.50" x2="641.96" y2="175.50" stroke="#222" stroke-width="1.15" />
<line x1="20.00" y1="503.80" x2="25.00" y2="503.80" stroke="#222" stroke-width="1.15" />
<line x1="327.20" y1="503.80" x2="337.20" y2="503.80" stroke="#222" stroke-width="1.15" />
<line x1="639.70" y1="503.80" x2="644.70" y2="503.80" stroke="#222" stroke-width="1.15" />
<line x1="20.00" y1="497.25" x2="25.00" y2="497.25" stroke="#222" stroke-width="1.15" />
<line x1="327.20" y1="497.25" x2="337.20" y2="497.25" stroke="#222" stroke-width="1.15" />
<line x1="639.70" y1="497.25" x2="644.70" y2="497.25" stroke="#222" stroke-width="1.15" />
<line x1="20.00" y1="491.47" x2="25.00" y2="491.47" stroke="#222" stroke-width="1.15" />
<line x1="327.20" y1="491.47" x2="337.20" y2="491.47" stroke="#222" stroke-width="1.15" />
<line x1="639.70" y1="491.47" x2="644.70" y2="491.47" stroke="#222" stroke-width="1.15" />
<line x1="20.00" y1="486.30" x2="30.00" y2="486.30" stroke="#222" stroke-width="1.15" />
<line x1="322.20" y1="486.30" x2="342.20" y2="486.30" stroke="#222" stroke-width="1.15" />
<line x1="634.70" y1="486.30" x2="644.70" y2="486.30" stroke="#222" stroke-width="1.15" />
<line x1="20.00" y1="452.28" x2="25.00" y2="452.28" stroke="#222" stroke-width="1.15" />
<line x1="327.20" y1="452.28" x2="337.20" y2="452.28" stroke="#222" stroke-width="1.15" />
<line x1="639.70" y1="452.28" x2="644.70" y2="452.28" stroke="#222" stroke-width="1.15" />
<line x1="20.00" y1="432.39" x2="25.00" y2="432.39" stroke="#222" stroke-width="1.15" />
<line x1="327.20" y1="432.39" x2="337.20" y2="432.39" stroke="#222" stroke-width="1.15" />
<line x1="639.70" y1="432.39" x2="644.70" y2="432.39" stroke="#222" stroke-width="1.15" />
<line x1="20.00" y1="418.27" x2="25.00" y2="418.27" stroke="#222" stroke-width="1.15" />
<line x1="327.20" y1="418.27" x2="337.20" y2="418.27" stroke="#222" stroke-width="1.15" />
<line x1="639.70" y1="418.27" x2="644.70" y2="418.27" stroke="#222" stroke-width="1.15" />
<line x1="20.00" y1="407.32" x2="25.00" y2="407.32" stroke="#222" stroke-width="1.15" />
<line x1="327.20" y1="407.32" x2="337.20" y2="407.32" stroke="#222" stroke-width="1.15" />
<line x1="639.70" y1="407.32" x2="644.70" y2="407.32" stroke="#222" stroke-width="1.15" />
<line x1="20.00" y1="398.37" x2="25.00" y2="398.37" stroke="#222" stroke-width="1.15" />
<line x1="327.20" y1="398.37" x2="337.20" y2="398.37" stroke="#222" stroke-width="1.15" />
<line x1="639.70" y1="398.37" x2="644.70" y2="398.37" stroke="#222" stroke-width="1.15" />
<line x1="20.00" y1="390.80" x2="25.00" y2="390.80" stroke="#222" stroke-width="1.15" />
<line x1="327.20" y1="390.80" x2="337.20" y2="390.80" stroke="#222" stroke-width="1.15" />
<line x1="639.70" y1="390.80" x2="644.70" y2="390.80" stroke="#222" stroke-width="1.15" />
<line x1="20.00" y1="384.25" x2="25.00" y2="384.25" stroke="#222" stroke-width="1.15" />
<line x1="327.20" y1="384.25" x2="337.20" y2="384.25" stroke="#222" stroke-width="1.15" />
<line x1="639.70" y1="384.25" x2="644.70" y2="384.25" stroke="#222" stroke-width="1.15" />
<line x1="20.00" y1="378.47" x2="25.00" y2="378.47" stroke="#222" stroke-width="1.15" />
<line x1="327.20" y1="378.47" x2="337.20" y2="378.47" stroke="#222" stroke-width="1.15" />
<line x1="639.70" y1="378.47" x2="644.70" y2="378.47" stroke="#222" stroke-width="1.15" />
<line x1="20.00" y1="373.30" x2="30.00" y2="373.30" stroke="#222" stroke-width="1.15" />
<line x1="322.20" y1="373.30" x2="342.20" y2="373.30" stroke="#222" stroke-width="1.15" />
<line x1="634.70" y1="373.30" x2="644.70" y2="373.30" stroke="#222" stroke-width="1.15" />
<line x1="20.00" y1="339.28" x2="25.00" y2="339.28" stroke="#222" stroke-width="1.15" />
<line x1="327.20" y1="339.28" x2="337.20" y2="339.28" stroke="#222" stroke-width="1.15" />
<line x1="639.70" y1="339.28" x2="644.70" y2="339.28" stroke="#222" stroke-width="1.15" />
<line x1="20.00" y1="319.39" x2="25.00" y2="319.39" stroke="#222" stroke-width="1.15" />
<line x1="327.20" y1="319.39" x2="337.20" y2="319.39" stroke="#222" stroke-width="1.15" />
<line x1="639.70" y1="319.39" x2="644.70" y2="319.39" stroke="#222" stroke-width="1.15" />
<line x1="20.00" y1="305.27" x2="25.00" y2="305.27" stroke="#222" stroke-width="1.15" />
<line x1="327.20" y1="305.27" x2="337.20" y2="305.27" stroke="#222" stroke-width="1.15" />
<line x1="639.70" y1="305.27" x2="644.70" y2="305.27" stroke="#222" stroke-width="1.15" />
<line x1="20.00" y1="294.32" x2="25.00" y2="294.32" stroke="#222" stroke-width="1.15" />
<line x1="327.20" y1="294.32" x2="337.20" y2="294.32" stroke="#222" stroke-width="1.15" />
<line x1="639.70" y1="294.32" x2="644.70" y2="294.32" stroke="#222" stroke-width="1.15" />
<line x1="20.00" y1="285.37" x2="25.00" y2="285.37" stroke="#222" stroke-width="1.15" />
<line x1="327.20" y1="285.37" x2="337.20" y2="285.37" stroke="#222" stroke-width="1.15" />
<line x1="639.70" y1="285.37" x2="644.70" y2="285.37" stroke="#222" stroke-width="1.15" />
<line x1="20.00" y1="277.80" x2="25.00" y2="277.80" stroke="#222" stroke-width="1.15" />
<line x1="327.20" y1="277.80" x2="337.20" y2="277.80" stroke="#222" stroke-width="1.15" />
<line x1="639.70" y1="277.80" x2="644.70" y2="277.80" stroke="#222" stroke-width="1.15" />
<line x1="20.00" y1="271.25" x2="25.00" y2="271.25" stroke="#222" stroke-width="1.15" />
<line x1="327.20" y1="271.25" x2="337.20" y2="271.25" stroke="#222" stroke-width="1.15" />
<line x1="639.70" y1="271.25" x2="644.70" y2="271.25" stroke="#222" stroke-width="1.15" />
<line x1="20.00" y1="265.47" x2="25.00" y2="265.47" stroke="#222" stroke-width="1.15" />
<line x1="327.20" y1="265.47" x2="337.20" y2="265.47" stroke="#222" stroke-width="1.15" />
<line x1="639.70" y1="265.47" x2="644.70" y2="265.47" stroke="#222" stroke-width="1.15" />
<line x1="20.00" y1="260.30" x2="30.00" y2="260.30" stroke="#222" stroke-width="1.15" />
<line x1="322.20" y1="260.30" x2="342.20" y2="260.30" stroke="#222" stroke-width="1.15" />
<line x1="634.70" y1="260.30" x2="644.70" y2="260.30" stroke="#222" stroke-width="1.15" />
<line x1="20.00" y1="226.28" x2="25.00" y2="226.28" stroke="#222" stroke-width="1.15" />
<line x1="327.20" y1="226.28" x2="337.20" y2="226.28" stroke="#222" stroke-width="1.15" />
<line x1="639.70" y1="226.28" x2="644.70" y2="226.28" stroke="#222" stroke-width="1.15" />
<line x1="20.00" y1="206.39" x2="25.00" y2="206.39" stroke="#222" stroke-width="1.15" />
<line x1="327.20" y1="206.39" x2="337.20" y2="206.39" stroke="#222" stroke-width="1.15" />
<line x1="639.70" y1="206.39" x2="644.70" y2="206.39" stroke="#222" stroke-width="1.15" />
<line x1="20.00" y1="192.27" x2="25.00" y2="192.27" stroke="#222" stroke-width="1.15" />
<line x1="327.20" y1="192.27" x2="337.20" y2="192.27" stroke="#222" stroke-width="1.15" />
<line x1="639.70" y1="192.27" x2="644.70" y2="192.27" stroke="#222" stroke-width="1.15" />
<line x1="20.00" y1="181.32" x2="25.00" y2="181.32" stroke="#222" stroke-width="1.15" />
<line x1="327.20" y1="181.32" x2="337.20" y2="181.32" stroke="#222" stroke-width="1.15" />
<line x1="639.70" y1="181.32" x2="644.70" y2="181.32" stroke="#222" stroke-width="1.15" />
<line x1="20.00" y1="172.37" x2="25.00" y2="172.37" stroke="#222" stroke-width="1.15" />
<line x1="327.20" y1="172.37" x2="337.20" y2="172.37" stroke="#222" stroke-width="1.15" />
<line x1="639.70" y1="172.37" x2="644.70" y2="172.37" stroke="#222" stroke-width="1.15" />
<text transform="translate(19.60,528.90) scale(1.06,1)" text-anchor="middle" class="t" >0.1</text>
<text transform="translate(131.70,528.90) scale(1.06,1)" text-anchor="middle" class="t" >1</text>
<text transform="translate(243.90,528.90) scale(1.06,1)" text-anchor="middle" class="t" >10</text>
<text transform="translate(443.90,528.90) scale(1.06,1)" text-anchor="middle" class="t" >1</text>
<text transform="translate(556.10,528.90) scale(1.06,1)" text-anchor="middle" class="t" >10</text>
<text transform="translate(10.90,491.90) scale(1.06,1)" text-anchor="end" class="t" >1</text>
<text transform="translate(10.90,378.90) scale(1.06,1)" text-anchor="end" class="t" >0</text>
<text transform="translate(10.90,266.00) scale(1.06,1)" text-anchor="end" class="t" >00</text>
<line x1="51.10" y1="417.80" x2="85.60" y2="417.80" stroke="#00ff00" stroke-width="1.25" />
<line x1="51.10" y1="444.40" x2="61.10" y2="444.40" stroke="#0000ff" stroke-width="1.25" />
<line x1="68.60" y1="444.40" x2="78.10" y2="444.40" stroke="#0000ff" stroke-width="1.25" />
<line x1="84.50" y1="444.40" x2="85.60" y2="444.40" stroke="#0000ff" stroke-width="1.25" />
<line x1="51.10" y1="471.80" x2="74.90" y2="471.80" stroke="#ff0000" stroke-width="1.25" />
<line x1="83.00" y1="471.80" x2="85.60" y2="471.80" stroke="#ff0000" stroke-width="1.25" />
<line x1="363.30" y1="417.80" x2="397.80" y2="417.80" stroke="#00ff00" stroke-width="1.25" />
<line x1="363.30" y1="444.40" x2="373.30" y2="444.40" stroke="#0000ff" stroke-width="1.25" />
<line x1="380.80" y1="444.40" x2="390.30" y2="444.40" stroke="#0000ff" stroke-width="1.25" />
<line x1="396.70" y1="444.40" x2="397.80" y2="444.40" stroke="#0000ff" stroke-width="1.25" />
<line x1="363.30" y1="471.80" x2="387.10" y2="471.80" stroke="#ff0000" stroke-width="1.25" />
<line x1="395.20" y1="471.80" x2="397.80" y2="471.80" stroke="#ff0000" stroke-width="1.25" />
<text x="98.90" y="417.90" class="s" fill="#00ff00" stroke="#00ff00" stroke-width="0.15" textLength="20.30" lengthAdjust="spacingAndGlyphs" >all</text>
<text x="98.90" y="444.70" class="s" fill="#0000ff" stroke="#0000ff" stroke-width="0.15" textLength="26.60" lengthAdjust="spacingAndGlyphs" >low</text>
<text x="136.10" y="444.70" class="s" fill="#0000ff" stroke="#0000ff" stroke-width="0.15" textLength="21.80" lengthAdjust="spacingAndGlyphs" >SB</text>
<path d="M171.78,431.30 Q165.26,439.95 171.78,448.60" fill="none" stroke="#0000ff" stroke-width="1.3" stroke-linecap="round"/>
<text x="174.00" y="444.70" font-family="Liberation Serif" font-style="italic" font-size="17.5px" fill="#0000ff" textLength="12.60" lengthAdjust="spacingAndGlyphs">μ</text>
<polyline points="189.20,434.90 199.20,440.00 189.20,445.10" fill="none" stroke="#0000ff" stroke-width="1.35"/>
<text x="199.80" y="444.70" class="d" fill="#0000ff" stroke="#0000ff" stroke-width="0.15" textLength="35.00" lengthAdjust="spacingAndGlyphs" >20.5</text>
<path d="M238.22,431.30 Q244.74,439.95 238.22,448.60" fill="none" stroke="#0000ff" stroke-width="1.3" stroke-linecap="round"/>
<text x="98.90" y="472.00" class="s" fill="#ff0000" stroke="#ff0000" stroke-width="0.15" textLength="36.70" lengthAdjust="spacingAndGlyphs" >high</text>
<text x="146.20" y="472.00" class="s" fill="#ff0000" stroke="#ff0000" stroke-width="0.15" textLength="21.10" lengthAdjust="spacingAndGlyphs" >SB</text>
<path d="M181.18,458.60 Q174.66,467.25 181.18,475.90" fill="none" stroke="#ff0000" stroke-width="1.3" stroke-linecap="round"/>
<text x="183.60" y="472.00" font-family="Liberation Serif" font-style="italic" font-size="17.5px" fill="#ff0000" textLength="12.60" lengthAdjust="spacingAndGlyphs">μ</text>
<polyline points="208.80,462.20 198.80,467.30 208.80,472.40" fill="none" stroke="#ff0000" stroke-width="1.35"/>
<text x="209.60" y="472.00" class="d" fill="#ff0000" stroke="#ff0000" stroke-width="0.15" textLength="35.00" lengthAdjust="spacingAndGlyphs" >20.5</text>
<path d="M248.12,458.60 Q254.04,467.25 248.12,475.90" fill="none" stroke="#ff0000" stroke-width="1.3" stroke-linecap="round"/>
<text x="410.90" y="417.90" class="s" fill="#00ff00" stroke="#00ff00" stroke-width="0.15" textLength="20.70" lengthAdjust="spacingAndGlyphs" >all</text>
<text x="410.90" y="444.70" class="s" fill="#0000ff" stroke="#0000ff" stroke-width="0.15" textLength="27.10" lengthAdjust="spacingAndGlyphs" >low</text>
<text x="448.60" y="444.70" class="s" fill="#0000ff" stroke="#0000ff" stroke-width="0.15" textLength="8.40" lengthAdjust="spacingAndGlyphs" >c</text>
<path d="M471.68,431.30 Q465.16,439.95 471.68,448.60" fill="none" stroke="#0000ff" stroke-width="1.3" stroke-linecap="round"/>
<text x="474.00" y="444.70" class="s" fill="#0000ff" stroke="#0000ff" stroke-width="0.15" textLength="9.10" lengthAdjust="spacingAndGlyphs" >c</text>
<polyline points="495.30,434.90 485.30,440.00 495.30,445.10" fill="none" stroke="#0000ff" stroke-width="1.35"/>
<text x="497.50" y="444.70" class="d" fill="#0000ff" stroke="#0000ff" stroke-width="0.15" textLength="24.10" lengthAdjust="spacingAndGlyphs" >2.7</text>
<path d="M525.42,431.30 Q531.94,439.95 525.42,448.60" fill="none" stroke="#0000ff" stroke-width="1.3" stroke-linecap="round"/>
<text x="410.90" y="472.00" class="s" fill="#ff0000" stroke="#ff0000" stroke-width="0.15" textLength="36.70" lengthAdjust="spacingAndGlyphs" >high</text>
<text x="458.80" y="472.00" class="s" fill="#ff0000" stroke="#ff0000" stroke-width="0.15" textLength="8.30" lengthAdjust="spacingAndGlyphs" >c</text>
<path d="M481.78,458.60 Q475.26,467.25 481.78,475.90" fill="none" stroke="#ff0000" stroke-width="1.3" stroke-linecap="round"/>
<text x="484.10" y="472.00" class="s" fill="#ff0000" stroke="#ff0000" stroke-width="0.15" textLength="9.10" lengthAdjust="spacingAndGlyphs" >c</text>
<polyline points="495.40,462.20 505.40,467.30 495.40,472.40" fill="none" stroke="#ff0000" stroke-width="1.35"/>
<text x="507.70" y="472.00" class="d" fill="#ff0000" stroke="#ff0000" stroke-width="0.15" textLength="24.00" lengthAdjust="spacingAndGlyphs" >2.7</text>
<path d="M535.52,458.60 Q542.04,467.25 535.52,475.90" fill="none" stroke="#ff0000" stroke-width="1.3" stroke-linecap="round"/>
<text x="118.10" y="555.30" font-family="Liberation Serif" font-size="18.5px" fill="#000" stroke="#000" stroke-width="0.05" textLength="7.00" lengthAdjust="spacingAndGlyphs">r</text>
<text x="126.90" y="560.60" font-family="Liberation Serif" font-weight="bold" font-size="12.5px" fill="#000" textLength="7.0" lengthAdjust="spacingAndGlyphs">p</text>
<path d="M149.26,540.30 Q141.42,549.75 149.26,559.20" fill="none" stroke="#000" stroke-width="1.35" stroke-linecap="round"/>
<text x="152.20" y="555.30" font-family="Liberation Serif" font-size="18.5px" fill="#000" stroke="#000" stroke-width="0.05" textLength="10.60" lengthAdjust="spacingAndGlyphs">h</text>
<line x1="165.20" y1="542.6" x2="171.80" y2="542.6" stroke="#000" stroke-width="1.1"/>
<text x="173.60" y="546.0" font-family="Liberation Serif" font-size="11.5px" fill="#000" stroke="#000" stroke-width="0.15">1</text>
<text x="190.10" y="555.30" font-family="Liberation Serif" font-size="18.5px" fill="#000" stroke="#000" stroke-width="0.05" textLength="13.00" lengthAdjust="spacingAndGlyphs">M</text>
<text x="204.30" y="555.30" font-family="Liberation Serif" font-size="18.5px" fill="#000" stroke="#000" stroke-width="0.05" textLength="9.10" lengthAdjust="spacingAndGlyphs">p</text>
<text x="216.60" y="555.30" font-family="Liberation Serif" font-size="18.5px" fill="#000" stroke="#000" stroke-width="0.05" textLength="9.00" lengthAdjust="spacingAndGlyphs">c</text>
<path d="M228.74,540.30 Q236.58,549.75 228.74,559.20" fill="none" stroke="#000" stroke-width="1.35" stroke-linecap="round"/>
<text x="430.50" y="555.30" font-family="Liberation Serif" font-size="18.5px" fill="#000" stroke="#000" stroke-width="0.05" textLength="7.00" lengthAdjust="spacingAndGlyphs">r</text>
<text x="439.30" y="560.60" font-family="Liberation Serif" font-weight="bold" font-size="12.5px" fill="#000" textLength="7.0" lengthAdjust="spacingAndGlyphs">p</text>
<path d="M461.66,540.30 Q453.82,549.75 461.66,559.20" fill="none" stroke="#000" stroke-width="1.35" stroke-linecap="round"/>
<text x="464.60" y="555.30" font-family="Liberation Serif" font-size="18.5px" fill="#000" stroke="#000" stroke-width="0.05" textLength="10.60" lengthAdjust="spacingAndGlyphs">h</text>
<line x1="477.60" y1="542.6" x2="484.20" y2="542.6" stroke="#000" stroke-width="1.1"/>
<text x="486.00" y="546.0" font-family="Liberation Serif" font-size="11.5px" fill="#000" stroke="#000" stroke-width="0.15">1</text>
<text x="502.50" y="555.30" font-family="Liberation Serif" font-size="18.5px" fill="#000" stroke="#000" stroke-width="0.05" textLength="13.00" lengthAdjust="spacingAndGlyphs">M</text>
<text x="516.70" y="555.30" font-family="Liberation Serif" font-size="18.5px" fill="#000" stroke="#000" stroke-width="0.05" textLength="9.10" lengthAdjust="spacingAndGlyphs">p</text>
<text x="529.00" y="555.30" font-family="Liberation Serif" font-size="18.5px" fill="#000" stroke="#000" stroke-width="0.05" textLength="9.00" lengthAdjust="spacingAndGlyphs">c</text>
<path d="M541.14,540.30 Q548.98,549.75 541.14,559.20" fill="none" stroke="#000" stroke-width="1.35" stroke-linecap="round"/>
</svg></body></html>
